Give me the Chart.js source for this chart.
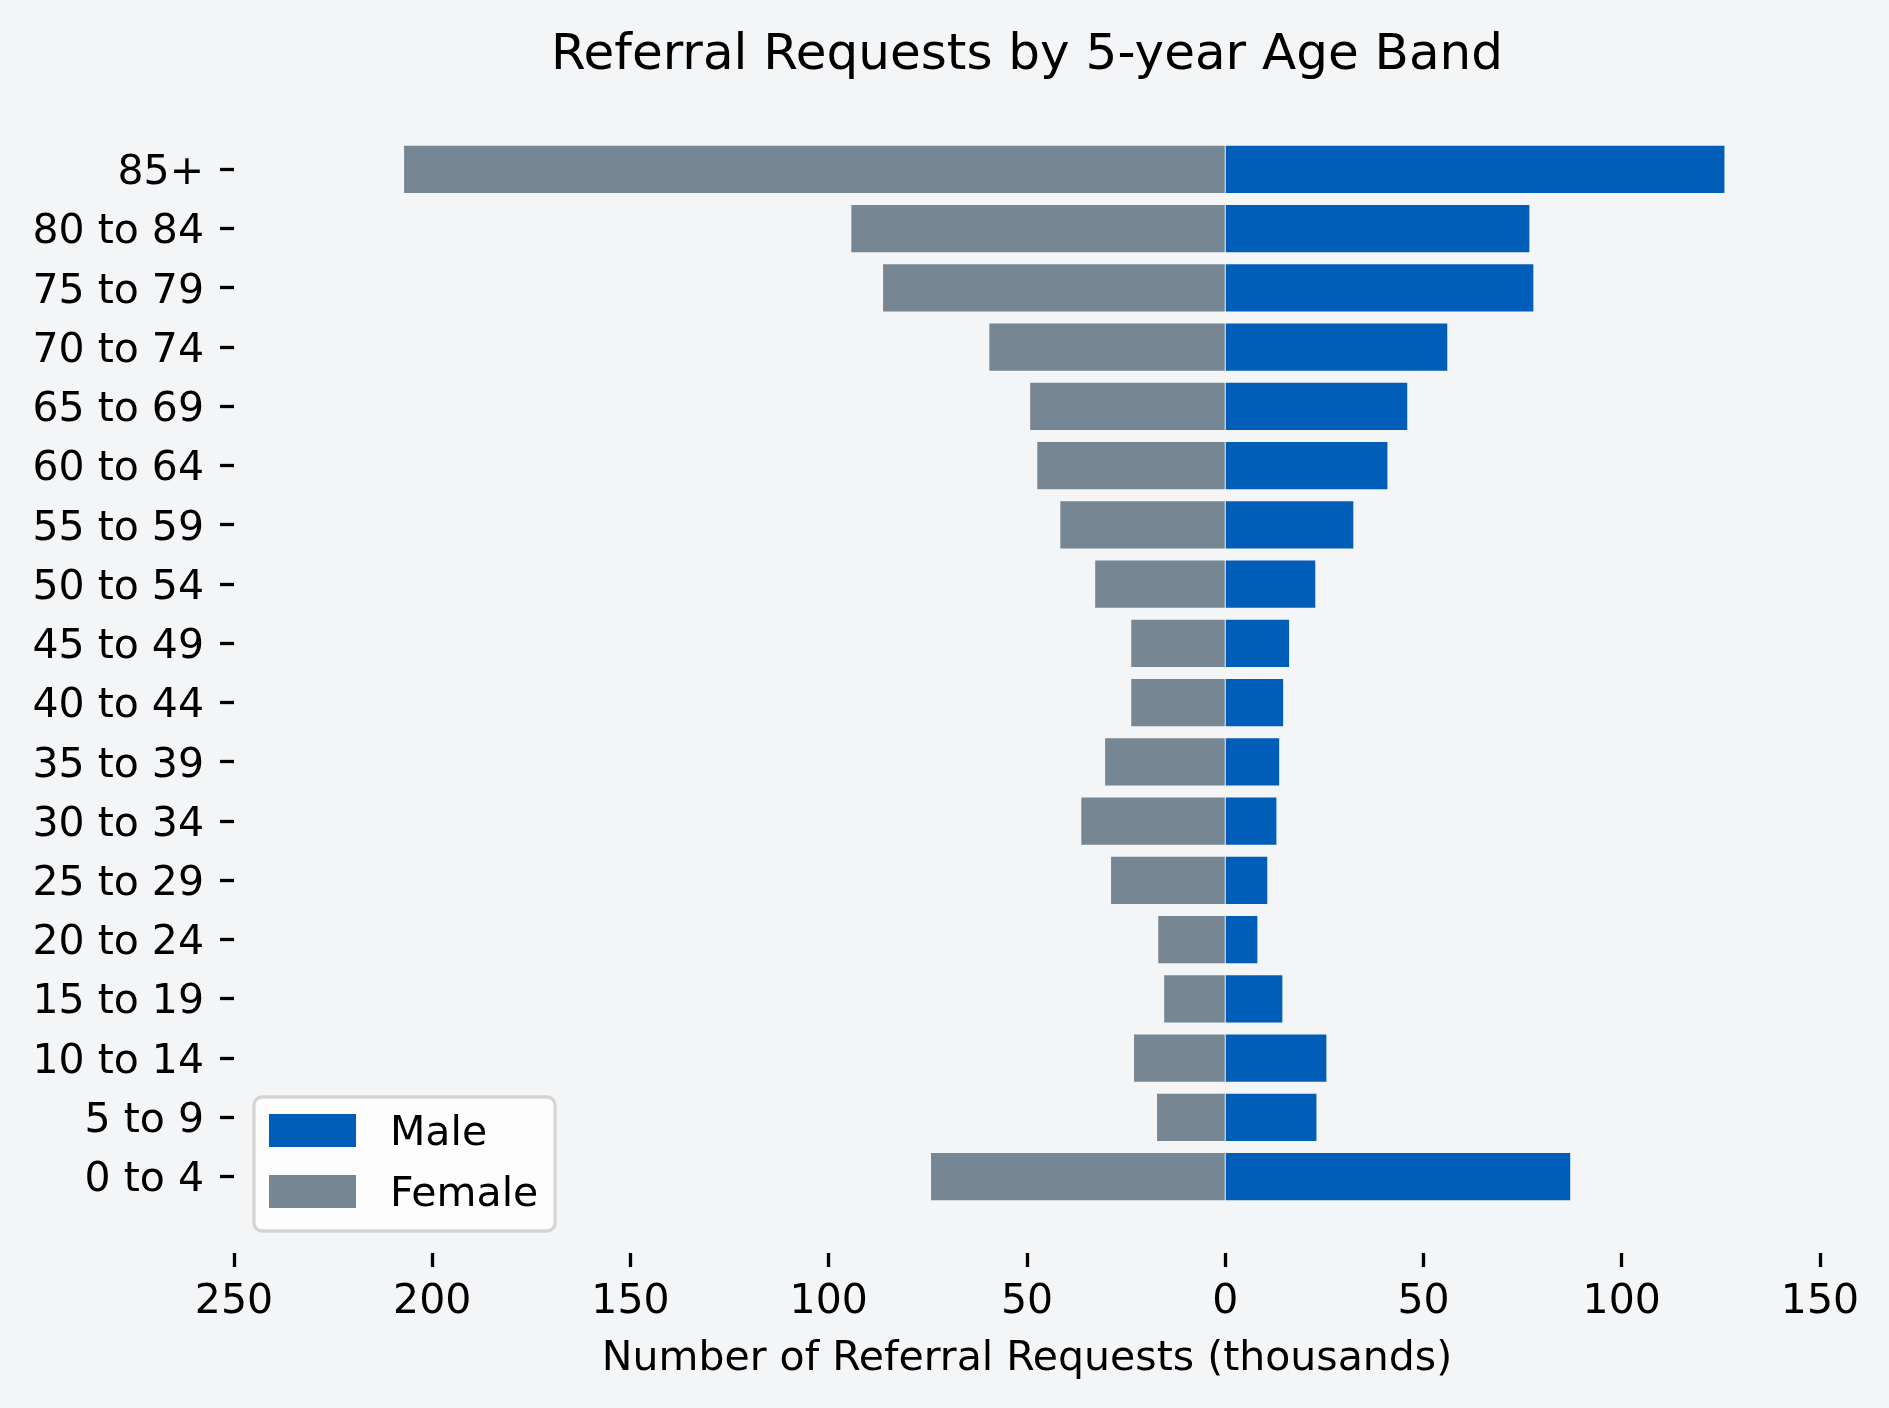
<!DOCTYPE html>
<html>
<head>
<meta charset="utf-8">
<script src="https://cdn.jsdelivr.net/npm/chart.js@4.4.1/dist/chart.umd.min.js"></script>
<style>
  html, body { margin: 0; padding: 0; background: #f4f5f7; }
  #wrap { width: 1889px; height: 1408px; }
  canvas { display: block; }
</style>
</head>
<body>
<div id="wrap"><canvas id="c" width="1889" height="1408"></canvas></div>
<script>
// ---- Data (thousands) ----
const categories = ['0 to 4','5 to 9','10 to 14','15 to 19','20 to 24','25 to 29','30 to 34','35 to 39',
  '40 to 44','45 to 49','50 to 54','55 to 59','60 to 64','65 to 69','70 to 74','75 to 79','80 to 84','85+'];
const maleValues   = [87.0, 23.0, 25.5, 14.4, 8.1, 10.6, 12.9, 13.6, 14.6, 16.1, 22.7, 32.3, 40.9, 45.9, 56.0, 77.7, 76.7, 125.9];
const femaleValues = [74.2, 17.2, 23.0, 15.4, 16.9, 28.8, 36.3, 30.3, 23.7, 23.7, 32.8, 41.6, 47.4, 49.2, 59.5, 86.3, 94.3, 207.1];
const xTickValues  = [-250, -200, -150, -100, -50, 0, 50, 100, 150];
const seriesNames  = ['Male', 'Female'];
const seriesColors = ['#005EB8', '#768692'];

const FONT = 'DejaVu Sans';
const BG = '#f4f5f7';

const bgPlugin = {
  id: 'bg',
  beforeDraw(chart) {
    const ctx = chart.ctx;
    ctx.save();
    ctx.fillStyle = BG;
    ctx.fillRect(0, 0, chart.width, chart.height);
    ctx.restore();
  }
};

const legendPlugin = {
  id: 'boxLegend',
  afterDraw(chart) {
    const ctx = chart.ctx;
    const ca = chart.chartArea;
    const bx = ca.left + 20, bw = 301, bh = 134;
    const by = ca.bottom - 22 - bh;
    ctx.save();
    ctx.beginPath();
    ctx.roundRect(bx, by, bw, bh, 8);
    ctx.fillStyle = 'rgba(255,255,255,0.8)';
    ctx.fill();
    ctx.lineWidth = 3.3;
    ctx.strokeStyle = 'rgba(204,204,204,0.8)';
    ctx.stroke();
    ctx.font = '41px "' + FONT + '"';
    ctx.textBaseline = 'alphabetic';
    ctx.textAlign = 'left';
    chart.data.datasets.forEach((ds, i) => {
      const py = by + 17 + i * 61;
      ctx.fillStyle = ds.backgroundColor;
      ctx.fillRect(bx + 15, py, 87, 33);
      ctx.fillStyle = '#000';
      ctx.fillText(ds.label, bx + 136, py + 31);
    });
    ctx.restore();
  }
};

new Chart(document.getElementById('c'), {
  type: 'bar',
  data: {
    datasets: [
      { label: seriesNames[0], backgroundColor: seriesColors[0],
        data: maleValues.map((v, i) => ({ x: v, y: i })) },
      { label: seriesNames[1], backgroundColor: seriesColors[1],
        data: femaleValues.map((v, i) => ({ x: -v, y: i })) }
    ]
  },
  options: {
    indexAxis: 'y',
    responsive: false,
    animation: false,
    devicePixelRatio: 1,
    categoryPercentage: 1.0,
    barPercentage: 0.8,
    layout: { padding: { left: 0, right: 69, top: 0, bottom: 0 } },
    plugins: {
      legend: { display: false },
      tooltip: { enabled: false },
      title: {
        display: true,
        text: 'Referral Requests by 5-year Age Band',
        fullSize: false,
        color: '#000',
        font: { family: FONT, size: 50, weight: 'normal' },
        padding: { top: 26, bottom: 7 }
      }
    },
    scales: {
      x: {
        type: 'linear', min: -250, max: 150, stacked: true, offset: false,
        afterBuildTicks: s => { s.ticks = xTickValues.map(v => ({ value: v })); },
        ticks: { callback: v => String(Math.abs(v)), color: '#000', font: { family: FONT, size: 41 },
                 padding: 11, autoSkip: false, maxRotation: 0 },
        grid: { display: true, offset: false, drawOnChartArea: false, drawTicks: true, tickLength: 14,
                tickWidth: 3.3, tickColor: '#000' },
        border: { display: false },
        title: { display: true, text: 'Number of Referral Requests (thousands)', color: '#000',
                 font: { family: FONT, size: 41 }, padding: { top: 0, bottom: 24 } },
        afterFit: s => { s.height = 155; }
      },
      y: {
        type: 'linear', min: -1.29, max: 18.29, stacked: true, offset: false,
        afterBuildTicks: s => { s.ticks = categories.map((c, i) => ({ value: i })); },
        ticks: { callback: v => categories[v], color: '#000', font: { family: FONT, size: 41 },
                 padding: 16, autoSkip: false, labelOffset: 4 },
        grid: { display: true, offset: false, drawOnChartArea: false, drawTicks: true, tickLength: 14,
                tickWidth: 3.3, tickColor: '#000' },
        border: { display: false },
        afterFit: s => { s.width = 234; }
      }
    }
  },
  plugins: [bgPlugin, legendPlugin]
});
</script>
</body>
</html>
